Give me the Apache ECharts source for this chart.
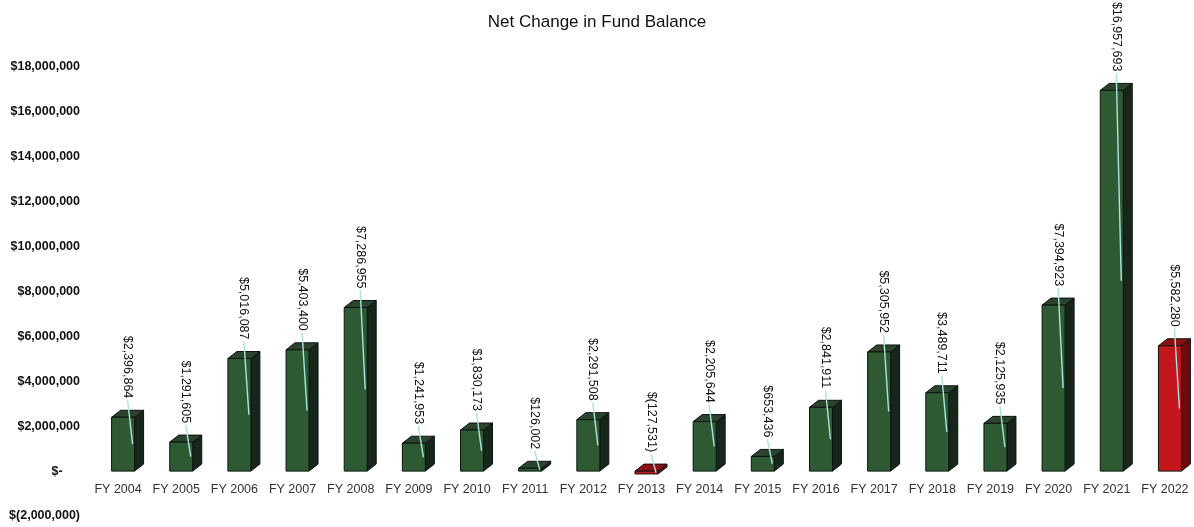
<!DOCTYPE html>
<html>
<head>
<meta charset="utf-8">
<script src="https://cdn.jsdelivr.net/npm/echarts@6/dist/echarts.min.js"></script>
<style>
  html, body { margin: 0; padding: 0; background: #fff; }
  #chart { width: 1194px; height: 527px; }
</style>
</head>
<body>
<div id="chart"></div>
<script>
// ---- data ----
const categories = ['FY 2004','FY 2005','FY 2006','FY 2007','FY 2008','FY 2009','FY 2010','FY 2011','FY 2012','FY 2013',
                    'FY 2014','FY 2015','FY 2016','FY 2017','FY 2018','FY 2019','FY 2020','FY 2021','FY 2022'];
const netChange = [2396864, 1291605, 5016087, 5403400, 7286955, 1241953, 1830173, 126002, 2291508, -127531,
                   2205644, 653436, 2841911, 5305952, 3489711, 2125935, 7394923, 16957693, 5582280];
const redYears = ['FY 2013', 'FY 2022'];
const yMin = -2000000, yMax = 18000000, yStep = 2000000;

// ---- styles ----
const FONT = 'Liberation Sans, Arial, sans-serif';
const W = 23, DX = 9, DY = 7, OFFSET = 5;
const GREEN = { front: '#2e5a33', top: '#2c432e', side: '#17261a' };
const RED = { front: '#c4161d', top: '#8e0f14', side: '#6e0a0e' };

function money(v) {
  const s = Math.abs(v).toLocaleString('en-US');
  return v < 0 ? '$(' + s + ')' : '$' + s;
}

function renderItem(params, api) {
  const idx = api.value(0), v = api.value(1);
  const p0 = api.coord([idx, 0]);
  const p1 = api.coord([idx, v]);
  const cx = p0[0] + OFFSET;
  const x0 = cx - W / 2, x1 = cx + W / 2;
  const yTop = Math.min(p0[1], p1[1]);
  const yBot = Math.max(p0[1], p1[1]);
  const c = redYears.indexOf(categories[idx]) >= 0 ? RED : GREEN;
  const stroke = '#0d140e';
  const lx = cx + DX / 2;
  const ly = yTop - DY - 12;
  return {
    type: 'group',
    children: [
      { type: 'polygon', shape: { points: [[x1, yTop], [x1 + DX, yTop - DY], [x1 + DX, yBot - DY], [x1, yBot]] },
        style: { fill: c.side, stroke: stroke, lineWidth: 1 } },
      { type: 'polygon', shape: { points: [[x0, yTop], [x0 + DX, yTop - DY], [x1 + DX, yTop - DY], [x1, yTop]] },
        style: { fill: c.top, stroke: stroke, lineWidth: 1 } },
      { type: 'rect', shape: { x: x0, y: yTop, width: W, height: Math.max(yBot - yTop, 0.5) },
        style: { fill: c.front, stroke: stroke, lineWidth: 1 } },
      { type: 'line', shape: { x1: lx, y1: ly + 2, x2: x1 - 2, y2: (yTop + yBot) / 2 },
        style: { stroke: '#a8e4e0', lineWidth: 1.4 } },
      { type: 'text', x: lx, y: ly, rotation: -Math.PI / 2,
        style: { text: money(v), x: 0, y: 0, align: 'right', verticalAlign: 'middle',
                 fontSize: 12.5, fontFamily: FONT, fill: '#111' } }
    ]
  };
}

const chart = echarts.init(document.getElementById('chart'));
chart.setOption({
  backgroundColor: '#fff',
  animation: false,
  title: {
    text: 'Net Change in Fund Balance', left: 'center', top: 9,
    textStyle: { fontFamily: FONT, fontSize: 17, fontWeight: 'normal', color: '#111' }
  },
  grid: { left: 89, width: 1106, top: 67, bottom: 11, containLabel: false },
  xAxis: {
    type: 'category', data: categories, offset: -45,
    axisLine: { show: false, onZero: false }, axisTick: { show: false },
    axisLabel: { interval: 0, margin: 12, fontSize: 12.5, fontFamily: FONT, color: '#333' }
  },
  yAxis: {
    type: 'value', min: yMin, max: yMax, interval: yStep,
    splitLine: { show: false }, axisLine: { show: false }, axisTick: { show: false },
    axisLabel: {
      margin: 9, fontSize: 12.5, fontFamily: FONT, color: '#111', fontWeight: 'bold',
      formatter: function (v) { return v === 0 ? '$-     ' : money(v); }
    }
  },
  series: [{
    type: 'custom', renderItem: renderItem, clip: false,
    encode: { x: 0, y: 1 },
    data: netChange.map(function (v, i) { return [i, v]; })
  }]
});
</script>
</body>
</html>
